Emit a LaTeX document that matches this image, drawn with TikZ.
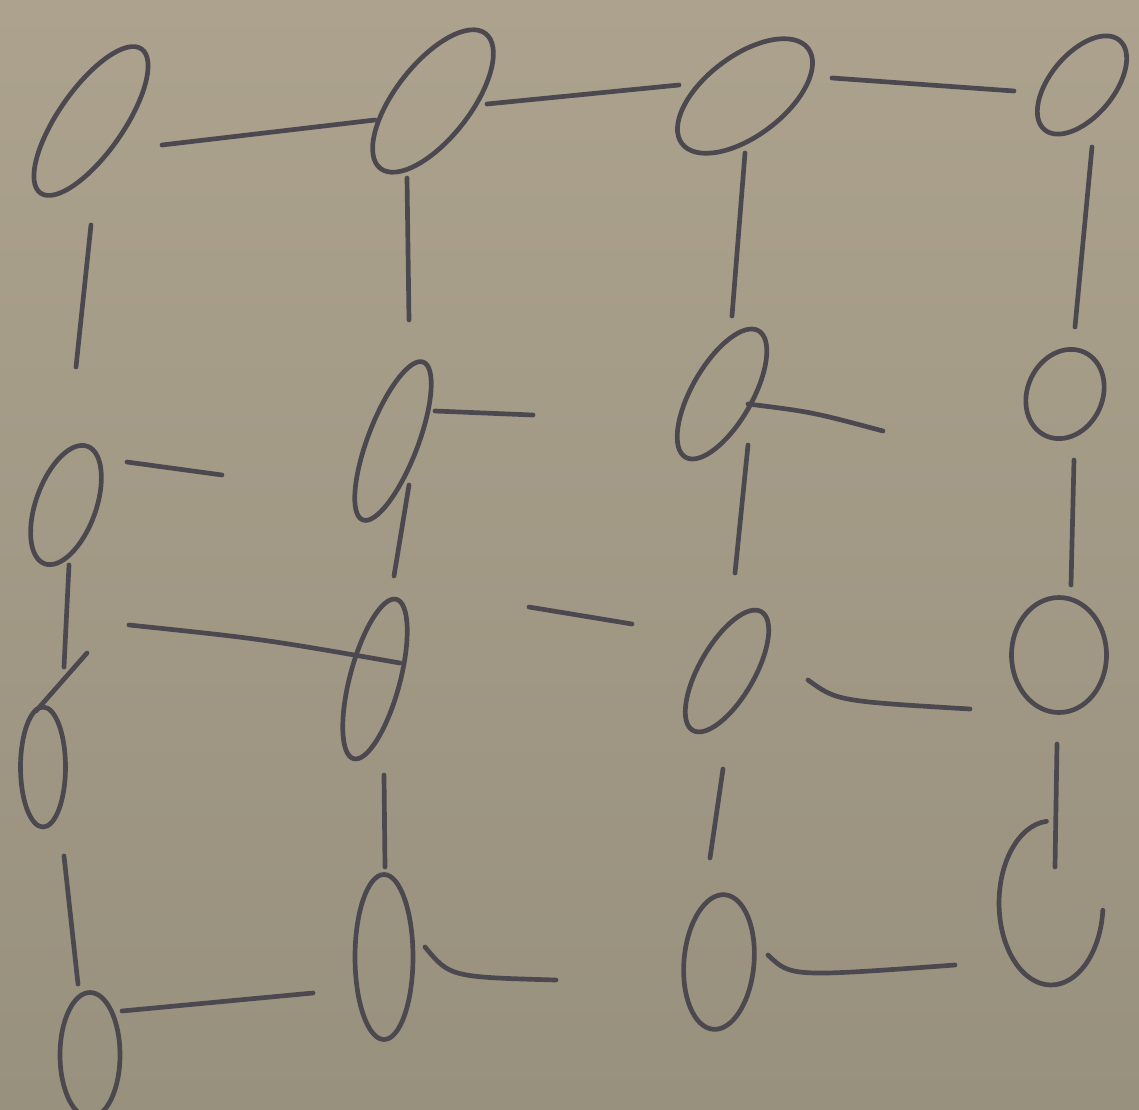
\documentclass[tikz,border=0pt]{standalone}
\usetikzlibrary{shapes.geometric,calc}
\definecolor{papertop}{RGB}{172,162,142}
\definecolor{paperbot}{RGB}{152,145,125}
\definecolor{ink}{RGB}{76,72,80}
\begin{document}
\begin{tikzpicture}[x=0.03cm,y=-0.03cm,
  ov/.style={ellipse,draw=ink,line width=4pt,inner sep=0pt,outer sep=0pt},
  stroke/.style={draw=ink,line width=4pt,line cap=round}]
\shade[top color=papertop,bottom color=paperbot] (0,0) rectangle (1139,1109);
\useasboundingbox (0,0) rectangle (1139,1109);
% row A
\node[ov,minimum width=1.95cm,minimum height=5.28cm,rotate=-35] (A1) at (91,121) {};
\node[ov,minimum width=2.25cm,minimum height=5.13cm,rotate=-38] (A2) at (433,101) {};
\node[ov,minimum width=2.4cm,minimum height=4.74cm,rotate=-53] (A3) at (745,96) {};
\node[ov,minimum width=1.9cm,minimum height=3.5cm,rotate=-40] (A4) at (1082,85) {};
% row B
\node[ov,minimum width=1.8cm,minimum height=3.75cm,rotate=-20] (B1) at (66,505) {};
\node[ov,minimum width=1.5cm,minimum height=5.07cm,rotate=-21] (B2) at (393,441) {};
\node[ov,minimum width=1.8cm,minimum height=4.38cm,rotate=-30] (B3) at (722,394) {};
\node[ov,minimum width=2.25cm,minimum height=2.76cm,rotate=-25] (B4) at (1065,394) {};
% row C
\node[ov,minimum width=1.35cm,minimum height=3.6cm] (C1) at (43,767) {};
\node[ov,minimum width=1.5cm,minimum height=4.95cm,rotate=-15] (C2) at (375,679) {};
\node[ov,minimum width=1.65cm,minimum height=4.11cm,rotate=-30] (C3) at (727,671) {};
\node[ov,minimum width=2.85cm,minimum height=3.45cm] (C4) at (1059,655) {};
% row D
\node[ov,minimum width=1.8cm,minimum height=3.75cm] (D1) at (90,1055) {};
\node[ov,minimum width=1.74cm,minimum height=4.95cm] (D2) at (384,957) {};
\node[ov,minimum width=2.1cm,minimum height=4.05cm,rotate=-5] (D3) at (719,962) {};
\node[inner sep=0pt,minimum width=3.12cm,minimum height=4.92cm] (D4) at (1051,903) {};
\draw[stroke] ($(D4)+(-4.5,-81.7)$) arc[start angle=95,end angle=355,x radius=1.56cm,y radius=2.46cm];
% free ends
\coordinate (b1e) at (222,475);
\coordinate (b2e) at (533,415);
\coordinate (b3e) at (883,431);
\coordinate (d2e) at (556,980);
% horizontal connectors
\draw[stroke] ($(A1)+(71,24)$) -- ($(A2)+(-58,19)$);
\draw[stroke] ($(A2)+(54,3)$) -- ($(A3)+(-66,-11)$);
\draw[stroke] ($(A3)+(87,-18)$) -- ($(A4)+(-68,6)$);
\draw[stroke] ($(B1)+(61,-43)$) -- (b1e);
\draw[stroke] ($(B2)+(42,-30)$) -- (b2e);
\draw[stroke] ($(B3)+(26,10)$) .. controls ($(B3)+(90,18)$) .. (b3e);
\draw[stroke] ($(C1)+(86,-142)$) .. controls ($(C1)+(220,-128)$) .. ($(C2)+(25,-16)$);
\draw[stroke] ($(C2)+(154,-72)$) -- ($(C2)+(257,-55)$);
\draw[stroke] ($(C3)+(81,9)$) .. controls ($(C3)+(110,30)$) .. ($(C4)+(-89,54)$);
\draw[stroke] ($(D1)+(32,-44)$) -- ($(D2)+(-71,36)$);
\draw[stroke] ($(D2)+(41,-10)$) .. controls ($(D2)+(66,20)$) .. (d2e);
\draw[stroke] ($(D3)+(49,-7)$) .. controls ($(D3)+(72,15)$) .. ($(D4)+(-96,62)$);
% vertical connectors
\draw[stroke] ($(A1)+(0,104)$) -- ($(B1)+(10,-138)$);
\draw[stroke] ($(A2)+(-26,77)$) -- ($(B2)+(16,-121)$);
\draw[stroke] ($(A3)+(0,57)$) -- ($(B3)+(10,-78)$);
\draw[stroke] ($(A4)+(10,62)$) -- ($(B4)+(10,-67)$);
\draw[stroke] ($(B1)+(3,60)$) -- ($(C1)+(21,-100)$);
\draw[stroke] ($(C1)+(44,-114)$) -- ($(C1)+(-7,-56)$);
\draw[stroke] ($(B2)+(16,44)$) -- ($(C2)+(19,-103)$);
\draw[stroke] ($(B3)+(26,51)$) -- ($(C3)+(8,-98)$);
\draw[stroke] ($(B4)+(9,66)$) -- ($(C4)+(12,-70)$);
\draw[stroke] ($(C1)+(21,89)$) -- ($(D1)+(-12,-71)$);
\draw[stroke] ($(C2)+(9,96)$) -- ($(D2)+(1,-90)$);
\draw[stroke] ($(C3)+(-4,98)$) -- ($(D3)+(-9,-104)$);
\draw[stroke] ($(C4)+(-2,89)$) -- ($(D4)+(4,-36)$);
\end{tikzpicture}
\end{document}
